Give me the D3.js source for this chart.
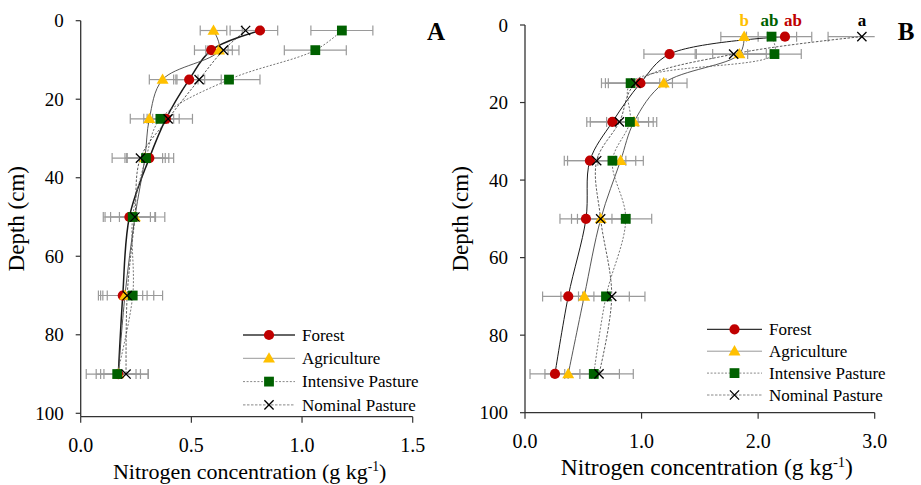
<!DOCTYPE html>
<html><head><meta charset="utf-8">
<script src="https://cdn.jsdelivr.net/npm/d3@7"></script>
<style>
body{margin:0;background:#fff}
svg{display:block}
svg text{font-family:"Liberation Serif","DejaVu Serif","Times New Roman",serif;fill:#000}
</style>
</head><body>
<svg id="c" width="921" height="485" font-family="Liberation Serif, DejaVu Serif, serif"></svg>
<script>
// ---------------- DATA ----------------
const seriesNames = ["Forest", "Agriculture", "Intensive Pasture", "Nominal Pasture"];
const yTicks = [0, 20, 40, 60, 80, 100];
const xTicksA = [0.0, 0.5, 1.0, 1.5];
const xTicksB = [0.0, 1.0, 2.0, 3.0];

// Panel A
const depthA = [2.5, 7.5, 15, 25, 35, 50, 70, 90];
const forestA = [0.81, 0.59, 0.49, 0.385, 0.31, 0.22, 0.19, 0.17];
const agriA   = [0.60, 0.625, 0.37, 0.31, 0.29, 0.245, 0.20, 0.17];
const intA    = [1.18, 1.06, 0.67, 0.36, 0.295, 0.235, 0.235, 0.165];
const nomA    = [0.745, 0.645, 0.535, 0.395, 0.27, 0.245, 0.21, 0.205];
const forestErrA = [0.08, 0.076, 0.07, 0.06, 0.11, 0.118, 0.11, 0.08];
const agriErrA   = [0.06, 0.06, 0.06, 0.086, 0.08, 0.07, 0.08, 0.10];
const intErrA    = [0.14, 0.14, 0.14, 0.06, 0.087, 0.10, 0.135, 0.14];
const nomErrA    = [0.07, 0.07, 0.10, 0.11, 0.128, 0.135, 0.12, 0.10];

// Panel B
const depthB = [3, 7.5, 15, 25, 35, 50, 70, 90];
const forestB = [2.23, 1.24, 0.99, 0.75, 0.557, 0.523, 0.371, 0.257];
const agriB   = [1.88, 1.84, 1.19, 0.935, 0.82, 0.65, 0.508, 0.371];
const intB    = [2.115, 2.14, 0.906, 0.90, 0.75, 0.864, 0.695, 0.59];
const nomB    = [2.89, 1.79, 0.95, 0.81, 0.615, 0.649, 0.744, 0.635];
const forestErrB = [0.23, 0.22, 0.275, 0.22, 0.22, 0.223, 0.22, 0.214];
const agriErrB   = [0.20, 0.23, 0.20, 0.195, 0.195, 0.20, 0.20, 0.20];
const intErrB    = [0.215, 0.23, 0.25, 0.20, 0.20, 0.223, 0.20, 0.22];
const nomErrB    = [0.29, 0.32, 0.26, 0.25, 0.25, 0.25, 0.285, 0.294];
const sigLettersB = ["ab", "b", "ab", "a"];

// ---------------- STYLES ----------------
const styles = [
  {marker: "circle",   color: "#C00000", line: "#1a1a1a", dash: null,  legLine: "#333", legDash: null},
  {marker: "triangle", color: "#FFC000", line: "#444",    dash: null,  legLine: "#999", legDash: null},
  {marker: "square",   color: "#006100", line: "#666",    dash: "2,1.6", legLine: "#888", legDash: "2,1.6"},
  {marker: "x",        color: "#000",    line: "#333",    dash: "2.5,1.5", legLine: "#888", legDash: "2.5,1.5"}
];
const letterColors = ["#C00000", "#FFC000", "#006100", "#000"];
const FONT_TICK = 19, FONT_TITLE = 23, FONT_LEG = 17;

const svg = d3.select("#c");

function drawMarker(g, type, color, cx, cy) {
  if (type === "circle") {
    g.append("circle").attr("cx", cx).attr("cy", cy).attr("r", 5.1).attr("fill", color);
  } else if (type === "triangle") {
    g.append("path").attr("d", d3.symbol().type(d3.symbolTriangle).size(62)())
      .attr("transform", `translate(${cx},${cy + 0.8})`).attr("fill", color);
  } else if (type === "square") {
    g.append("rect").attr("x", cx - 4.9).attr("y", cy - 4.9).attr("width", 9.8).attr("height", 9.8).attr("fill", color);
  } else {
    const s = 4.6;
    g.append("path").attr("d", `M${cx - s},${cy - s}L${cx + s},${cy + s}M${cx - s},${cy + s}L${cx + s},${cy - s}`)
      .attr("stroke", color).attr("stroke-width", 1.3).attr("fill", "none");
  }
}

function panel(cfg) {
  const g = svg.append("g");
  const x = d3.scaleLinear().domain(cfg.xDomain).range(cfg.xRange);
  const y = d3.scaleLinear().domain([0, 100]).range(cfg.yRange);
  const axisY = cfg.axisY;
  const x0 = cfg.xRange[0];

  // axes lines
  g.append("line").attr("x1", x0).attr("x2", x0).attr("y1", y(0)).attr("y2", axisY)
    .attr("stroke", "#333").attr("stroke-width", 1.3);
  g.append("line").attr("x1", x0).attr("x2", cfg.xRange[1]).attr("y1", axisY).attr("y2", axisY)
    .attr("stroke", "#333").attr("stroke-width", 1.3);

  // y ticks
  cfg.yTicks.forEach(t => {
    g.append("line").attr("x1", x0 - 5).attr("x2", x0).attr("y1", y(t)).attr("y2", y(t))
      .attr("stroke", "#333").attr("stroke-width", 1.2);
    g.append("text").attr("x", x0 - 17).attr("y", y(t)).attr("dy", "0.35em")
      .attr("text-anchor", "end").attr("font-size", FONT_TICK).text(d3.format("d")(t));
  });
  // x ticks
  cfg.xTicks.forEach(t => {
    g.append("line").attr("x1", x(t)).attr("x2", x(t)).attr("y1", axisY).attr("y2", axisY + 6)
      .attr("stroke", "#333").attr("stroke-width", 1.2);
    g.append("text").attr("x", x(t)).attr("y", axisY + 35)
      .attr("text-anchor", "middle").attr("font-size", FONT_TICK + 1).text(d3.format(".1f")(t));
  });

  // axis titles
  const xt = g.append("text").attr("x", (cfg.xRange[0] + cfg.xRange[1]) / 2 + cfg.titleShift)
    .attr("y", axisY + 62).attr("text-anchor", "middle").attr("font-size", cfg.titleSize);
  xt.append("tspan").text("Nitrogen concentration (g kg");
  xt.append("tspan").attr("dy", -8).attr("font-size", cfg.titleSize * 0.62).text("-1");
  xt.append("tspan").attr("dy", 8).text(")");

  g.append("text").attr("transform", `translate(${x0 - cfg.yTitleOff},${(y(0) + axisY) / 2}) rotate(-90)`)
    .attr("text-anchor", "middle").attr("font-size", FONT_TITLE).text("Depth (cm)");

  // panel label
  g.append("text").attr("x", cfg.labelX).attr("y", 40).attr("text-anchor", "middle")
    .attr("font-size", 25).attr("font-weight", "bold").text(cfg.label);

  const xMax = cfg.xDomain[1];
  const line = d3.line().curve(d3.curveCatmullRom.alpha(0.5));

  cfg.series.forEach((vals, si) => {
    const st = styles[si];
    const errs = cfg.errs[si];
    const sg = g.append("g");
    // error bars
    vals.forEach((v, i) => {
      const cy = y(cfg.depth[i]);
      const lo = Math.max(0, v - errs[i]);
      const hi = Math.min(xMax, v + errs[i]);
      sg.append("line").attr("x1", x(lo)).attr("x2", x(hi)).attr("y1", cy).attr("y2", cy)
        .attr("stroke", "#9a9a9a").attr("stroke-width", 1.2);
      [[lo, v - errs[i]], [hi, v + errs[i]]].forEach(([c, raw]) => {
        if (c === raw) {
          sg.append("line").attr("x1", x(c)).attr("x2", x(c)).attr("y1", cy - 5).attr("y2", cy + 5)
            .attr("stroke", "#9a9a9a").attr("stroke-width", 1.2);
        }
      });
    });
    // smoothed line
    const pts = vals.map((v, i) => [x(v), y(cfg.depth[i])]);
    sg.append("path").attr("d", line(pts)).attr("fill", "none")
      .attr("stroke", st.line).attr("stroke-width", cfg.lineWidths[si])
      .attr("stroke-dasharray", st.dash);
  });
  cfg.series.forEach((vals, si) => {
    const st = styles[si];
    const mg = g.append("g");
    vals.forEach((v, i) => drawMarker(mg, st.marker, st.color, x(v), y(cfg.depth[i])));
  });

  // significance letters
  if (cfg.letters) {
    cfg.letters.forEach((l, si) => {
      const v = cfg.series[si][0];
      g.append("text").attr("x", x(v) + cfg.letterShift[si]).attr("y", y(0) + 0.5)
        .attr("text-anchor", "middle").attr("font-size", 17).attr("font-weight", "bold")
        .style("fill", letterColors[si]).text(l);
    });
  }

  // legend
  seriesNames.forEach((name, si) => {
    const st = styles[si];
    const ly = cfg.legY + si * cfg.legGap;
    g.append("line").attr("x1", cfg.legX).attr("x2", cfg.legX + cfg.legW).attr("y1", ly).attr("y2", ly)
      .attr("stroke", st.legLine).attr("stroke-width", si === 0 ? 1.3 : 1)
      .attr("stroke-dasharray", st.legDash);
    drawMarker(g, st.marker, st.color, cfg.legX + cfg.legW / 2, ly);
    g.append("text").attr("x", cfg.legX + cfg.legW + 7).attr("y", ly).attr("dy", "0.33em")
      .attr("font-size", FONT_LEG).text(name);
  });
}

panel({
  xDomain: [0, 1.5], xRange: [80.7, 412.7], yRange: [20.7, 413.3], axisY: 416.7,
  yTicks: yTicks, xTicks: xTicksA, depth: depthA,
  series: [forestA, agriA, intA, nomA], errs: [forestErrA, agriErrA, intErrA, nomErrA],
  lineWidths: [1.5, 0.9, 0.9, 0.8],
  label: "A", labelX: 436, titleSize: 22, titleShift: 3, yTitleOff: 57,
  legX: 243, legW: 52, legY: 335, legGap: 23.3
});
panel({
  xDomain: [0, 3.0], xRange: [525, 874.7], yRange: [25, 412.7], axisY: 412.7,
  yTicks: yTicks, xTicks: xTicksB, depth: depthB,
  series: [forestB, agriB, intB, nomB], errs: [forestErrB, agriErrB, intErrB, nomErrB],
  lineWidths: [1.0, 0.9, 0.9, 0.8],
  label: "B", labelX: 906, titleSize: 23.5, titleShift: 7, yTitleOff: 57,
  letters: sigLettersB, letterShift: [8, 0, -2, 0],
  legX: 707, legW: 55, legY: 329.3, legGap: 21.9
});
</script>
</body></html>
